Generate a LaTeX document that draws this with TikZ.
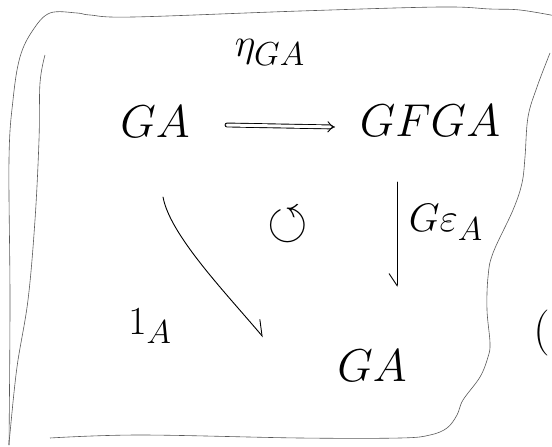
\documentclass[tikz,border=0pt]{standalone}
\usepackage{amssymb}
\usetikzlibrary{arrows.meta}
\begin{document}
\begin{tikzpicture}[x=1pt,y=-1pt,
  frame/.style={draw=black!65,line width=0.6pt},
  obj/.style={inner sep=0pt,font=\Huge,scale=1.85},
  lab/.style={inner sep=0pt,font=\Huge,scale=1.6},
  arr/.style={line width=0.9pt,line cap=round},
]
\useasboundingbox (0,0) rectangle (552,447);
% frame
\draw[frame] plot[smooth,tension=0.6] coordinates {(556,16) (520,10) (490,9) (440,7) (300,11) (133,17) (90,15) (77,13) (50,13) (33,30) (20,57) (13,100) (9,160) (10,300) (9,445)};
\draw[frame] plot[smooth,tension=0.6] coordinates {(45,55) (40,83) (39,140) (35,220) (28,300) (17,367) (10,433) (9,445)};
\draw[frame] plot[smooth,tension=0.6] coordinates {(550,53) (537,87) (528,117) (525,157) (522,183) (513,210) (493,253) (488,277) (487,310) (490,343) (488,357) (480,377) (463,400) (457,415) (447,428) (430,435) (400,438) (300,438) (140,435) (50,438)};
% objects
\node[obj] (ga1) at (155,122) {$GA$};
\node[obj] (gfga) at (430,121) {$GFGA$};
\node[obj] (ga2) at (372,366) {$GA$};
% labels
\node[lab] (eta) at (270,52) {$\eta_{GA}$};
\node[lab] (geps) at (446,222) {$G\varepsilon_A$};
\node[lab] (one) at (150,326) {$1_A$};
\node[inner sep=0pt,font=\Huge,scale=2.1] (comm) at (288,225) {$\circlearrowleft$};
\node[obj,anchor=west] (paren) at (533,333) {$($};
% arrows
\coordinate (h1) at (227,125);
\coordinate (h2) at (335,127);
\draw[arr,double,double distance=3pt,-{Implies[length=6pt]}] (h1) -- (h2);
\coordinate (v1) at (397,182);
\coordinate (v2) at (397,287);
\draw[arr,-{Straight Barb[harpoon,swap,length=12pt,width=16pt]}] (v1) -- (v2);
\coordinate (d1) at (163,197);
\coordinate (d2) at (263,337);
\draw[arr,-{Straight Barb[harpoon,length=14pt,width=18pt]}] (d1) .. controls (170,235) and (225,292) .. (d2);
\end{tikzpicture}
\end{document}
